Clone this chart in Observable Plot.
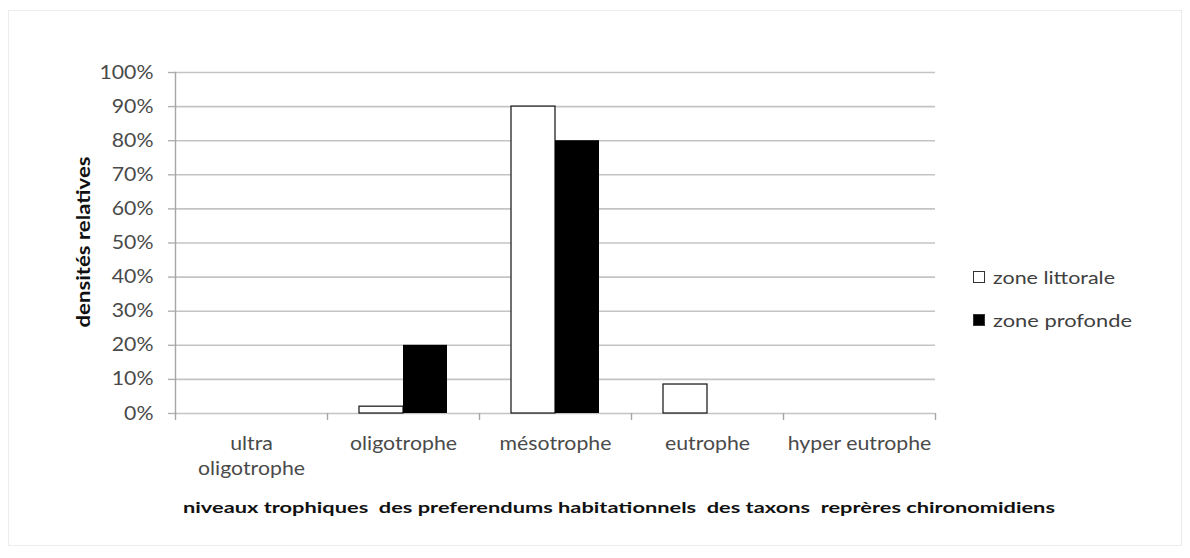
<!DOCTYPE html>
<html><head><meta charset="utf-8">
<script src="https://cdn.jsdelivr.net/npm/d3@7"></script>
<script src="https://cdn.jsdelivr.net/npm/@observablehq/plot@0.6"></script>
<style>
body{margin:0;background:#fff;}
#wrap{position:relative;width:1190px;height:558px;font-family:Lato,sans-serif;overflow:hidden;}
#border{position:absolute;left:8px;top:10px;width:1172px;height:534px;border:1px solid #ececec;}
.legend{position:absolute;left:973px;font-size:18px;color:#404040;display:flex;align-items:center;}
.legend .sw{width:12px;height:12px;border:1px solid #333;margin-right:8px;box-sizing:border-box;}
.legend span{display:inline-block;transform-origin:0 50%;}
#xtitle{position:absolute;top:497px;left:183px;font-weight:bold;font-size:16px;color:#111;white-space:pre;transform-origin:0 0;}
#ytitle{position:absolute;left:83px;top:242px;font-weight:bold;font-size:18px;color:#111;white-space:pre;}
</style></head><body><div id="wrap"><div id="border"></div></div>
<script>
const categories = ["ultra oligotrophe","oligotrophe","mésotrophe","eutrophe","hyper eutrophe"];
const categoryLabels = ["ultra\noligotrophe","oligotrophe","mésotrophe","eutrophe","hyper eutrophe"];
const seriesNames = ["zone littorale","zone profonde"];
const littorale = [0, 2, 90, 8.5, 0];
const profonde = [0, 20, 80, 0, 0];
const yTicks = [0,10,20,30,40,50,60,70,80,90,100];
const xTitle = "niveaux trophiques  des preferendums habitationnels  des taxons  reprères chironomidiens";
const yTitle = "densités relatives";

const W = 1190, H = 558, ML = 175, MR = 255, MT = 72, MB = 145;
const step = (W - ML - MR) / categories.length;
const barW = 44;
const outer = (step - 2 * barW) / 2;

const dataL = categories.map((c, i) => ({cat: c, value: littorale[i]}));
const dataP = categories.map((c, i) => ({cat: c, value: profonde[i]}));

const chart = Plot.plot({
  width: W, height: H,
  marginLeft: ML, marginRight: MR, marginTop: MT, marginBottom: MB,
  style: {fontFamily: "Lato, sans-serif", background: "transparent"},
  x: {domain: categories, padding: 0, label: null},
  y: {domain: [0, 100], label: null},
  marks: [
    Plot.gridY(yTicks, {stroke: "#c4c4c4", strokeOpacity: 1, strokeWidth: 1.6}),
    Plot.frame({anchor: "left", stroke: "#a6a6a6", strokeWidth: 1.4}),
    Plot.axisY(yTicks, {tickSize: 7, tickPadding: 15, stroke: "#b0b0b0", strokeWidth: 1.4, tickFormat: d => d + "%", fontSize: 19, fill: "#4a4a4a", label: null}),
    Plot.axisX(categories, {tickSize: 7, text: null, dx: -step / 2, stroke: "#a6a6a6", strokeWidth: 1.4, label: null}),
    Plot.axisX([categories[categories.length - 1]], {tickSize: 7, text: null, dx: step / 2, stroke: "#a6a6a6", strokeWidth: 1.4, label: null}),
    Plot.axisX(categories, {tickSize: 0, tickPadding: 19, fontSize: 19, fill: "#4a4a4a", lineHeight: 1.3, tickFormat: d => categoryLabels[categories.indexOf(d)], label: null}),
    Plot.barY(dataL, {filter: d => d.value > 0, x: "cat", y: "value", fill: "#fff", stroke: "#222", strokeWidth: 1.3, insetLeft: outer, insetRight: step - outer - barW}),
    Plot.barY(dataP, {filter: d => d.value > 0, x: "cat", y: "value", fill: "#000", insetLeft: outer + barW, insetRight: outer})
  ]
});
const wrap = document.getElementById("wrap");
chart.style.position = "absolute"; chart.style.left = "0"; chart.style.top = "0";
wrap.appendChild(chart);

// widen tick labels slightly (reference glyphs are horizontally stretched)
d3.select(chart).selectAll('g[aria-label="y-axis tick label"] text, g[aria-label="x-axis tick label"] text')
  .attr("transform", function() {
    const t = this.getAttribute("transform") || "";
    return t + " scale(1.12,1)";
  });

const legendTop = [266, 309];
const legendWidths = [122, 139];
seriesNames.forEach((s, i) => {
  const d = document.createElement("div");
  d.className = "legend";
  d.style.top = legendTop[i] + "px";
  const sw = document.createElement("div");
  sw.className = "sw";
  sw.style.background = i === 0 ? "#fff" : "#000";
  d.appendChild(sw);
  const t = document.createElement("span");
  t.textContent = s;
  d.appendChild(t);
  wrap.appendChild(d);
  const w = t.getBoundingClientRect().width;
  t.style.transform = `scaleX(${legendWidths[i] / w})`;
});

const xt = document.createElement("div");
xt.id = "xtitle"; xt.textContent = xTitle;
wrap.appendChild(xt);
const wNow = xt.getBoundingClientRect().width;
xt.style.transform = `scaleX(${872 / wNow})`;

const yt = document.createElement("div");
yt.id = "ytitle"; yt.textContent = yTitle;
wrap.appendChild(yt);
const yw = yt.getBoundingClientRect().width;
yt.style.transform = `translate(-50%,-50%) rotate(-90deg) scaleX(${171 / yw})`;
</script>
</body></html>
